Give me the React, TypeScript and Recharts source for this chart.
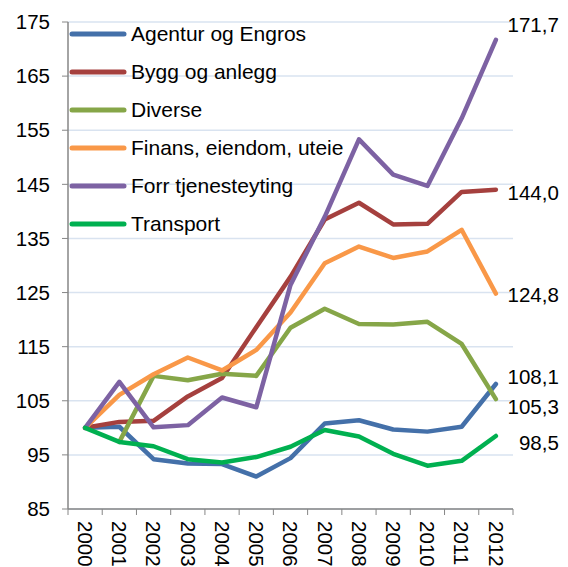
import { LineChart, Line, XAxis, YAxis, CartesianGrid, Legend, LabelList } from "recharts";

const years = ["2000", "2001", "2002", "2003", "2004", "2005", "2006", "2007", "2008", "2009", "2010", "2011", "2012"];
const yTicks = [85, 95, 105, 115, 125, 135, 145, 155, 165, 175];

const agentur = [100, 100.2, 94.2, 93.4, 93.3, 91.0, 94.4, 100.8, 101.4, 99.7, 99.3, 100.2, 108.1];
const bygg = [100, 101.1, 101.3, 105.8, 109.2, 118.6, 127.9, 138.5, 141.6, 137.6, 137.7, 143.6, 144.0];
const diverse = [null, 97.4, 109.6, 108.8, 110.0, 109.6, 118.5, 122.0, 119.2, 119.1, 119.6, 115.5, 105.3];
const finans = [100, 106.1, 109.9, 113.0, 110.6, 114.4, 121.3, 130.4, 133.5, 131.4, 132.6, 136.6, 124.8];
const forr = [100, 108.5, 100.1, 100.5, 105.6, 103.8, 126.4, 139.0, 153.3, 146.8, 144.7, 157.2, 171.7];
const transport = [100, 97.4, 96.6, 94.2, 93.6, 94.6, 96.5, 99.6, 98.4, 95.2, 93.0, 93.9, 98.5];

const series = [
  { key: "agentur", name: "Agentur og Engros", color: "#4470A9", values: agentur, labelDy: -8 },
  { key: "bygg", name: "Bygg og anlegg", color: "#A5403E", values: bygg, labelDy: 3 },
  { key: "diverse", name: "Diverse", color: "#86A648", values: diverse, labelDy: 7 },
  { key: "finans", name: "Finans, eiendom, uteie", color: "#F99848", values: finans, labelDy: 1 },
  { key: "forr", name: "Forr tjenesteyting", color: "#7D62A3", values: forr, labelDy: -15 },
  { key: "transport", name: "Transport", color: "#00B050", values: transport, labelDy: 7 },
];

const data = years.map((year, i) => {
  const row: Record<string, number | string | null> = { i, year };
  series.forEach((s) => {
    row[s.key] = s.values[i];
  });
  return row;
});

const W = 568;
const H = 567;
const M = { top: 22, right: 55, bottom: 0, left: 0 };
const Y_W = 68;
const X_H = 58;
const plotW = W - M.left - M.right - Y_W;
const step = plotW / years.length;
const FONT = "'Liberation Sans', Arial, sans-serif";
const axisColor = "#868686";

const YearTick = (props: any) => {
  const { x, y, payload, index } = props;
  const axisY = y - 8;
  return (
    <g>
      <line x1={x - step / 2} x2={x - step / 2} y1={axisY} y2={axisY + 6} stroke={axisColor} />
      {index === years.length - 1 && (
        <line x1={x + step / 2} x2={x + step / 2} y1={axisY} y2={axisY + 6} stroke={axisColor} />
      )}
      <text
        transform={`translate(${x},${axisY + 12}) rotate(90)`}
        textAnchor="start"
        dy="0.35em"
        fontSize={20.5}
        fontFamily={FONT}
        fill="#000"
      >
        {years[payload.value]}
      </text>
    </g>
  );
};

const LegendBox = (props: any) => {
  const { payload } = props;
  return (
    <div style={{ fontFamily: FONT, fontSize: 21, color: "#000" }}>
      {(payload || []).map((p: any) => (
        <div key={p.value} style={{ display: "flex", alignItems: "center", height: 38 }}>
          <svg width={60} height={10}>
            <line x1={3} x2={55} y1={5} y2={5} stroke={p.color} strokeWidth={5} strokeLinecap="round" />
          </svg>
          <span style={{ whiteSpace: "nowrap", marginLeft: 2 }}>{p.value}</span>
        </div>
      ))}
    </div>
  );
};

const endLabel = (dyOff: number) => (props: any) => {
  const { x, y, value, index } = props;
  if (index !== years.length - 1 || value == null) return null;
  return (
    <text
      x={x + 63}
      y={y + dyOff}
      textAnchor="end"
      dominantBaseline="central"
      fontSize={20.5}
      fontFamily={FONT}
      fill="#000"
    >
      {Number(value).toFixed(1).replace(".", ",")}
    </text>
  );
};

export default function App() {
  return (
    <div style={{ position: "absolute", left: 0, top: 0, width: W, height: H, background: "#fff" }}>
      <LineChart width={W} height={H} data={data} margin={M}>
        <CartesianGrid vertical={false} stroke="#D9E3F0" strokeWidth={1.5} />
        <XAxis
          dataKey="i"
          type="number"
          domain={[-0.5, 12.5]}
          ticks={years.map((_, i) => i)}
          height={X_H}
          tickLine={false}
          axisLine={{ stroke: axisColor, strokeWidth: 1.5 }}
          tick={<YearTick />}
          interval={0}
        />
        <YAxis
          type="number"
          domain={[85, 175]}
          ticks={yTicks}
          width={Y_W}
          tickSize={6}
          tickMargin={12}
          axisLine={{ stroke: axisColor, strokeWidth: 1.5 }}
          tickLine={{ stroke: axisColor }}
          tick={{ fill: "#000", fontSize: 20.5, fontFamily: FONT }}
          interval={0}
        />
        <Legend
          layout="vertical"
          align="center"
          verticalAlign="middle"
          content={<LegendBox />}
          wrapperStyle={{ top: 15, left: 69, width: 320 }}
        />
        {series.map((s) => (
          <Line
            key={s.key}
            dataKey={s.key}
            name={s.name}
            stroke={s.color}
            strokeWidth={4.5}
            strokeLinecap="round"
            strokeLinejoin="round"
            dot={false}
            activeDot={false}
            isAnimationActive={false}
            connectNulls={false}
          >
            <LabelList dataKey={s.key} content={endLabel(s.labelDy)} />
          </Line>
        ))}
      </LineChart>
    </div>
  );
}
